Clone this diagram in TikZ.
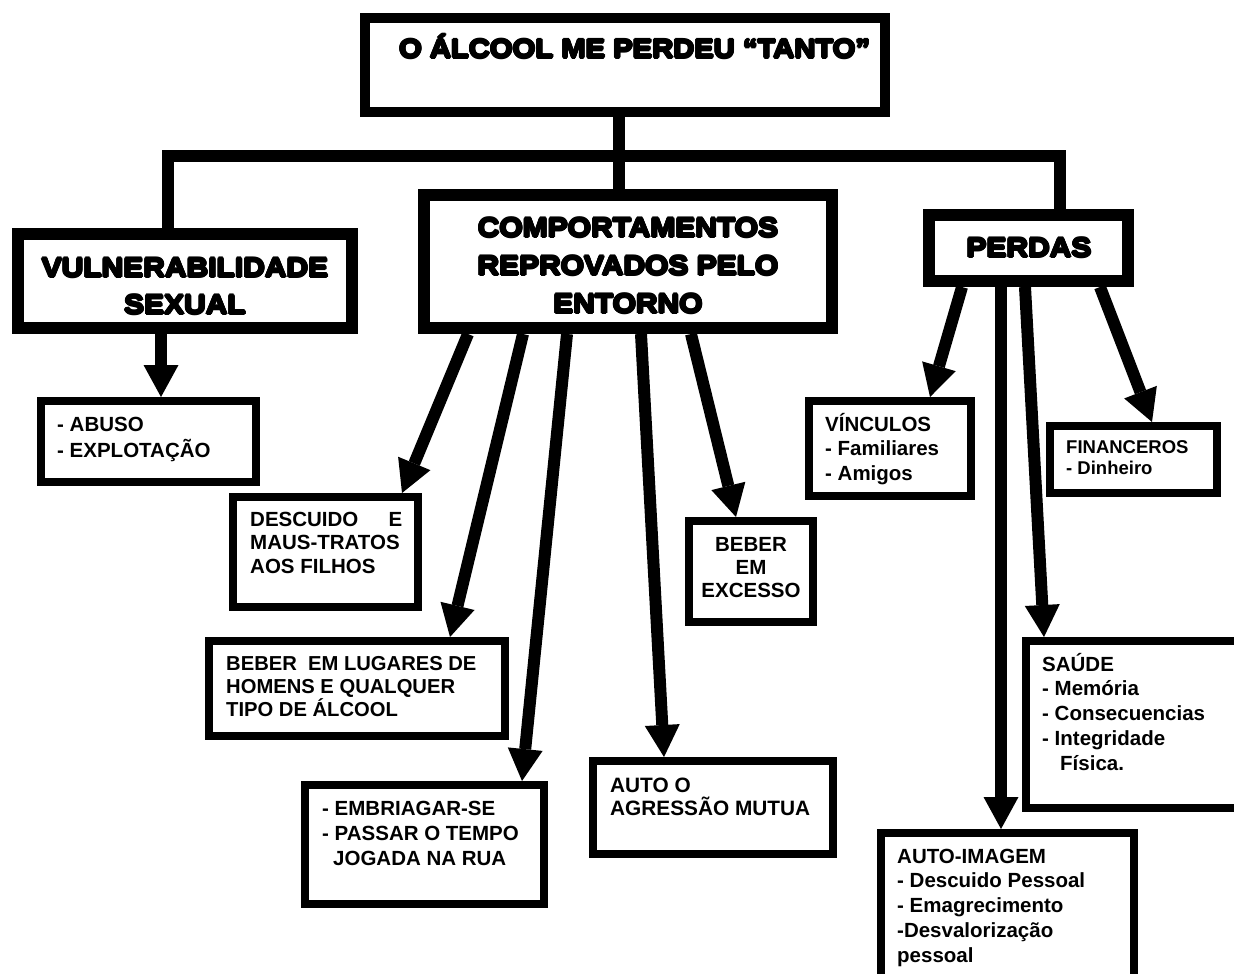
\documentclass[tikz,border=0pt]{standalone}
\usepackage{fontspec}
\setmainfont{Liberation Sans}
\newfontfamily\heavyfont{Liberation Sans}[BoldFeatures={FakeStretch=1.11}]
\usetikzlibrary{arrows.meta}

% black-weight lettering: the bold face overprinted with small offsets
\newcommand\heavytext[1]{\leavevmode
  \rlap{\kern-1.1pt#1}\rlap{\kern1.1pt#1}%
  \rlap{\raisebox{1.1pt}{#1}}\rlap{\raisebox{-1.1pt}{#1}}%
  \rlap{\kern-0.78pt\raisebox{0.78pt}{#1}}\rlap{\kern0.78pt\raisebox{0.78pt}{#1}}%
  \rlap{\kern-0.78pt\raisebox{-0.78pt}{#1}}\rlap{\kern0.78pt\raisebox{-0.78pt}{#1}}%
  \rlap{\kern-0.55pt#1}\rlap{\kern0.55pt#1}%
  \rlap{\raisebox{0.55pt}{#1}}\rlap{\raisebox{-0.55pt}{#1}}%
  #1}

\tikzset{
  frame/.style={draw, inner sep=0pt},
  thickframe/.style={frame, line width=12pt},
  thinframe/.style={frame, line width=8pt},
  branch/.style={line width=12pt},
  arrow/.style={line width=12pt, -{Triangle[width=35pt,length=32pt,line width=0pt]}},
  heading/.style={inner sep=0pt, anchor=base, font=\heavyfont\bfseries\fontsize{27}{37}\selectfont},
  item/.style={inner sep=0pt, anchor=base west, font=\bfseries\fontsize{20.5}{24.5}\selectfont},
}

\begin{document}
\begin{tikzpicture}[x=1pt,y=-1pt]
\clip (0,0) rectangle (1234,974);
\fill[white] (0,0) rectangle (1234,974);

% boxes
\node[frame, line width=10pt, minimum width=520pt, minimum height=94pt] (title) at (625,65) {};
\node[thickframe, minimum width=334pt, minimum height=94pt] (vuln) at (185,281) {};
\node[thickframe, minimum width=408pt, minimum height=133pt] (comp) at (628,261.5) {};
\node[thickframe, minimum width=199pt, minimum height=66pt] (perdas) at (1028.5,248) {};
\node[thinframe, minimum width=215pt, minimum height=81pt] (abuso) at (148.5,441.5) {};
\node[thinframe, minimum width=185pt, minimum height=110pt] (descuido) at (325.5,552) {};
\node[thinframe, minimum width=296pt, minimum height=95pt] (lugares) at (357,688.5) {};
\node[thinframe, minimum width=239pt, minimum height=119pt] (embriagar) at (424.5,844.5) {};
\node[thinframe, minimum width=240pt, minimum height=93pt] (agressao) at (713,807.5) {};
\node[thinframe, minimum width=124pt, minimum height=101pt] (excesso) at (751,571.5) {};
\node[thinframe, minimum width=162pt, minimum height=95pt] (vinculos) at (890,448.5) {};
\node[thinframe, minimum width=167pt, minimum height=67pt] (financeiros) at (1133.5,459.5) {};
\node[thinframe, minimum width=224pt, minimum height=167pt] (saude) at (1138,724.5) {};
\node[thinframe, minimum width=253pt, minimum height=148pt] (imagem) at (1007.5,907) {};

% tree from the title
\coordinate (junction) at (619,156);
\draw[branch] ([xshift=-17pt]vuln.north) |- (junction) -| ([xshift=31.5pt]perdas.north);
\draw[branch] ([xshift=-6pt]title.south) -- ([xshift=-9pt]comp.north);

% arrows
\draw[arrow] ([xshift=-24pt]vuln.south) -- ([xshift=12.5pt]abuso.north);
\draw[arrow] ([xshift=-160pt]comp.south) -- ([xshift=76.5pt]descuido.north);
\draw[arrow] ([xshift=-105pt]comp.south) -- ([xshift=93pt]lugares.north);
\draw[arrow] ([xshift=-61pt]comp.south) -- ([xshift=97.5pt]embriagar.north);
\draw[arrow] ([xshift=13pt]comp.south) -- ([xshift=-49pt]agressao.north);
\draw[arrow] ([xshift=63pt]comp.south) -- ([xshift=-15pt]excesso.north);
\draw[arrow] ([xshift=-66.5pt]perdas.south) -- ([xshift=40pt]vinculos.north);
\draw[arrow] ([xshift=-27.5pt]perdas.south) -- ([xshift=-6.5pt]imagem.north);
\draw[arrow] ([xshift=-3.5pt]perdas.south) -- ([xshift=-94pt]saude.north);
\draw[arrow] ([xshift=71.5pt]perdas.south) -- ([xshift=18.5pt]financeiros.north);

% headings
\node[heading, anchor=base west] (titletext) at (399,58) {\fontsize{26.3}{30}\selectfont\heavytext{O ÁLCOOL ME PERDEU “TANTO”}};
\node[heading] (vulntext) at (185,277) {\parbox[t]{330pt}{\centering \heavytext{VULNERABILIDADE}\\\heavytext{SEXUAL}}};
\node[heading] (comptext) at (628,237) {\fontsize{27}{38}\selectfont\parbox[t]{400pt}{\centering \heavytext{COMPORTAMENTOS}\\\heavytext{REPROVADOS PELO}\\\heavytext{ENTORNO}}};
\node[heading] (perdastext) at (1029,257) {\heavytext{PERDAS}};

% items
\node[item] (abusotext) at (57,431) {\fontsize{20.5}{26}\selectfont\parbox[t]{200pt}{\raggedright - ABUSO\\- EXPLOTAÇÃO}};
\node[item] (descuidotext) at (250,526) {\fontsize{20.5}{23.5}\selectfont\parbox[t]{200pt}{\raggedright \makebox[152pt][s]{DESCUIDO E}\\MAUS-TRATOS\\AOS FILHOS}};
\node[item] (lugarestext) at (226,670) {\fontsize{20.2}{23}\selectfont\parbox[t]{300pt}{\raggedright BEBER\ \ EM LUGARES DE\\HOMENS E QUALQUER\\TIPO DE ÁLCOOL}};
\node[item] (embriagartext) at (322,815) {\fontsize{20.5}{25}\selectfont\parbox[t]{300pt}{\raggedright - EMBRIAGAR-SE\\- PASSAR O TEMPO\\\hspace*{11pt}JOGADA NA RUA}};
\node[item] (agressaotext) at (610,792) {\fontsize{20.8}{23}\selectfont\parbox[t]{300pt}{\raggedright AUTO O\\AGRESSÃO MUTUA}};
\node[item, anchor=base] (excessotext) at (751,551) {\fontsize{20.5}{23}\selectfont\parbox[t]{120pt}{\centering BEBER\\EM\\EXCESSO}};
\node[item] (vinculostext) at (825,431) {\parbox[t]{200pt}{\raggedright VÍNCULOS\\- Familiares\\- Amigos}};
\node[item] (financeirostext) at (1066,453) {\fontsize{18.5}{21}\selectfont\parbox[t]{200pt}{\raggedright FINANCEROS\\- Dinheiro}};
\node[item] (saudetext) at (1042,671) {\fontsize{20.5}{24.75}\selectfont\parbox[t]{200pt}{\raggedright SAÚDE\\- Memória\\- Consecuencias\\- Integridade\\\hspace*{18pt}Física.}};
\node[item] (imagemtext) at (897,863) {\fontsize{20.5}{24.75}\selectfont\parbox[t]{250pt}{\raggedright AUTO-IMAGEM\\- Descuido Pessoal\\- Emagrecimento\\-Desvalorização\\pessoal}};
\end{tikzpicture}
\end{document}
